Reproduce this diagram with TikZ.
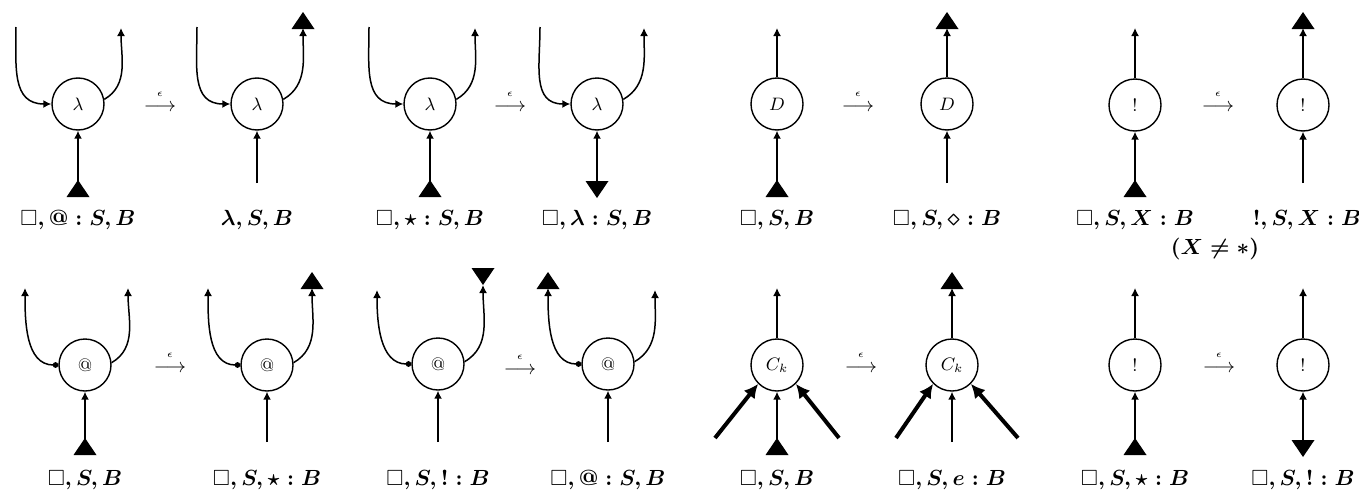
\documentclass[tikz,border=0pt]{standalone}
\usepackage{amsmath,amssymb}
\usetikzlibrary{arrows.meta}
\tikzset{
  nd/.style={circle,draw,line width=0.7pt,minimum size=26pt,inner sep=0pt,font=\small},
  wire/.style={line width=0.75pt},
  sm/.style={wire,-{Latex[length=4pt,width=4pt]}},
  dotsm/.style={wire,{Circle[length=2.8pt]}-{Latex[length=4pt,width=4pt]}},
  thk/.style={line width=2pt,-{Latex[length=7pt,width=7pt]}},
  lab/.style={font=\fontsize{11}{13}\selectfont\boldmath,inner sep=0pt},
  rw/.style={inner sep=0pt},
  ep/.style={inner sep=0pt,font=\tiny},
  upT/.pic={\fill (-11.5,0) -- (11.5,0) -- (0,17) -- cycle;},
  dnT/.pic={\fill (-11.5,0) -- (11.5,0) -- (0,-17) -- cycle;},
}
\begin{document}
\begin{tikzpicture}[x=0.5pt,y=0.5pt]
\useasboundingbox (0,0) rectangle (1359,-498);

% ---------------- top row ----------------
% P1
\node[nd] (c1) at (78,-104) {$\lambda$};
\coordinate (c1l) at (16,-27);
\coordinate (c1r) at (121,-28);
\coordinate (c1b) at (78,-197);
\draw[sm] (c1l) to[out=-90,in=180,looseness=1.2] (c1.west);
\draw[sm] (c1.10) to[out=30,in=-90] (c1r);
\draw[sm] (c1b) -- (c1.south);
\pic at (c1b) {upT};
\node[lab] (t1) at (78,-220) {$\square,@ : S, B$};
\node[rw] (s1) at (160,-108) {$\longrightarrow$};
\node[ep] (e1) at (160,-94) {$\epsilon$};
% P2
\node[nd] (c2) at (257,-104) {$\lambda$};
\coordinate (c2l) at (197,-27);
\coordinate (c2r) at (303,-28);
\coordinate (c2rt) at (303,-29);
\coordinate (c2b) at (257,-183);
\draw[sm] (c2l) to[out=-90,in=180,looseness=1.2] (c2.west);
\draw[sm] (c2.10) to[out=30,in=-90] (c2r);
\pic at (c2rt) {upT};
\draw[sm] (c2b) -- (c2.south);
\node[lab] (t2) at (257,-220) {$\lambda, S, B$};
% P3
\node[nd] (c3) at (430,-104) {$\lambda$};
\coordinate (c3l) at (369,-27);
\coordinate (c3r) at (475,-28);
\coordinate (c3b) at (430,-197);
\draw[sm] (c3l) to[out=-90,in=180,looseness=1.2] (c3.west);
\draw[sm] (c3.10) to[out=30,in=-90] (c3r);
\draw[sm] (c3b) -- (c3.south);
\pic at (c3b) {upT};
\node[lab] (t3) at (430,-220) {$\square,\star : S, B$};
\node[rw] (s2) at (510,-108) {$\longrightarrow$};
\node[ep] (e2) at (510,-94) {$\epsilon$};
% P4
\node[nd] (c4) at (597,-104) {$\lambda$};
\coordinate (c4l) at (540,-27);
\coordinate (c4r) at (644,-28);
\coordinate (c4b) at (597,-181);
\draw[sm] (c4l) to[out=-90,in=180,looseness=1.2] (c4.west);
\draw[sm] (c4.10) to[out=30,in=-90] (c4r);
\draw[sm] (c4b) -- (c4.south);
\pic at (c4b) {dnT};
\node[lab] (t4) at (597,-220) {$\square, \lambda : S, B$};
% P5
\node[nd] (c5) at (777,-104) {$D$};
\coordinate (c5t) at (777,-28);
\coordinate (c5b) at (777,-197);
\draw[sm] (c5.north) -- (c5t);
\draw[sm] (c5b) -- (c5.south);
\pic at (c5b) {upT};
\node[lab] (t5) at (777,-220) {$\square,S, B$};
\node[rw] (s3) at (858,-108) {$\longrightarrow$};
\node[ep] (e3) at (858,-94) {$\epsilon$};
% P6
\node[nd] (c6) at (947,-104) {$D$};
\coordinate (c6t) at (947,-28);
\coordinate (c6tt) at (947,-29);
\coordinate (c6b) at (947,-183);
\draw[sm] (c6.north) -- (c6t);
\pic at (c6tt) {upT};
\draw[sm] (c6b) -- (c6.south);
\node[lab] (t6) at (947,-220) {$\square, S, \diamond : B$};
% P7
\node[nd] (c7) at (1135,-105) {$!$};
\coordinate (c7t) at (1135,-28);
\coordinate (c7b) at (1135,-197);
\draw[sm] (c7.north) -- (c7t);
\draw[sm] (c7b) -- (c7.south);
\pic at (c7b) {upT};
\node[lab] (t7) at (1135,-220) {$\square, S, X : B$};
\node[rw] (s4) at (1218,-108) {$\longrightarrow$};
\node[ep] (e4) at (1218,-94) {$\epsilon$};
% P8
\node[nd] (c8) at (1303,-105) {$!$};
\coordinate (c8t) at (1303,-28);
\coordinate (c8tt) at (1303,-29);
\coordinate (c8b) at (1303,-183);
\draw[sm] (c8.north) -- (c8t);
\pic at (c8tt) {upT};
\draw[sm] (c8b) -- (c8.south);
\node[lab] (t8) at (1307,-220) {$!, S, X : B$};
\node[lab] (cond) at (1215,-249) {$(X \neq \ast)$};

% ---------------- bottom row ----------------
% Q1
\node[nd] (d1) at (85,-365) {$@$};
\coordinate (d1l) at (25,-288);
\coordinate (d1r) at (128,-288);
\coordinate (d1b) at (85,-455);
\draw[dotsm] (d1.west) to[out=180,in=-90] (d1l);
\draw[sm] (d1.5) to[out=30,in=-90] (d1r);
\draw[sm] (d1b) -- (d1.south);
\pic at (d1b) {upT};
\node[lab] (u1) at (85,-480) {$\square, S, B$};
\node[rw] (r1) at (170,-369) {$\longrightarrow$};
\node[ep] (f1) at (170,-355) {$\epsilon$};
% Q2
\node[nd] (d2) at (267,-365) {$@$};
\coordinate (d2l) at (208,-288);
\coordinate (d2r) at (312,-288);
\coordinate (d2rt) at (312,-289);
\coordinate (d2b) at (267,-442);
\draw[dotsm] (d2.west) to[out=180,in=-90] (d2l);
\draw[sm] (d2.5) to[out=30,in=-90] (d2r);
\pic at (d2rt) {upT};
\draw[sm] (d2b) -- (d2.south);
\node[lab] (u2) at (267,-480) {$\square, S, \star : B$};
% Q3
\node[nd] (d3) at (438,-364) {$@$};
\coordinate (d3l) at (377,-290);
\coordinate (d3r) at (483,-285);
\coordinate (d3rt) at (483,-268);
\coordinate (d3b) at (438,-442);
\draw[dotsm] (d3.west) to[out=180,in=-90] (d3l);
\draw[sm] (d3.5) to[out=30,in=-90] (d3r);
\pic at (d3rt) {dnT};
\draw[sm] (d3b) -- (d3.south);
\node[lab] (u3) at (438,-480) {$\square, S, ! : B$};
\node[rw] (r2) at (520,-371) {$\longrightarrow$};
\node[ep] (f2) at (520,-357) {$\epsilon$};
% Q4
\node[nd] (d4) at (608,-364) {$@$};
\coordinate (d4l) at (548,-288);
\coordinate (d4lt) at (548,-289);
\coordinate (d4r) at (655,-290);
\coordinate (d4b) at (608,-442);
\draw[dotsm] (d4.west) to[out=180,in=-90] (d4l);
\pic at (d4lt) {upT};
\draw[sm] (d4.5) to[out=30,in=-90] (d4r);
\draw[sm] (d4b) -- (d4.south);
\node[lab] (u4) at (608,-480) {$\square, @ : S, B$};
% Q5
\node[nd] (d5) at (777,-365) {$C_k$};
\coordinate (d5t) at (777,-288);
\coordinate (d5b) at (777,-455);
\coordinate (d5sl) at (715,-438);
\coordinate (d5sr) at (839,-438);
\draw[sm] (d5.north) -- (d5t);
\draw[sm] (d5b) -- (d5.south);
\pic at (d5b) {upT};
\draw[thk] (d5sl) -- (d5.225);
\draw[thk] (d5sr) -- (d5.-45);
\node[lab] (u5) at (777,-480) {$\square,S, B$};
\node[rw] (r3) at (861,-369) {$\longrightarrow$};
\node[ep] (f3) at (861,-355) {$\epsilon$};
% Q6
\node[nd] (d6) at (952,-365) {$C_k$};
\coordinate (d6t) at (952,-288);
\coordinate (d6tt) at (952,-289);
\coordinate (d6b) at (952,-442);
\coordinate (d6sl) at (896,-438);
\coordinate (d6sr) at (1018,-438);
\draw[sm] (d6.north) -- (d6t);
\pic at (d6tt) {upT};
\draw[sm] (d6b) -- (d6.south);
\draw[thk] (d6sl) -- (d6.225);
\draw[thk] (d6sr) -- (d6.-45);
\node[lab] (u6) at (952,-480) {$\square, S, e : B$};
% Q7
\node[nd] (d7) at (1135,-365) {$!$};
\coordinate (d7t) at (1135,-288);
\coordinate (d7b) at (1135,-455);
\draw[sm] (d7.north) -- (d7t);
\draw[sm] (d7b) -- (d7.south);
\pic at (d7b) {upT};
\node[lab] (u7) at (1135,-480) {$\square, S, \star : B$};
\node[rw] (r4) at (1219,-369) {$\longrightarrow$};
\node[ep] (f4) at (1219,-355) {$\epsilon$};
% Q8
\node[nd] (d8) at (1303,-365) {$!$};
\coordinate (d8t) at (1303,-288);
\coordinate (d8b) at (1303,-440);
\draw[sm] (d8.north) -- (d8t);
\draw[sm] (d8b) -- (d8.south);
\pic at (d8b) {dnT};
\node[lab] (u8) at (1303,-480) {$\square, S, ! : B$};
\end{tikzpicture}
\end{document}
